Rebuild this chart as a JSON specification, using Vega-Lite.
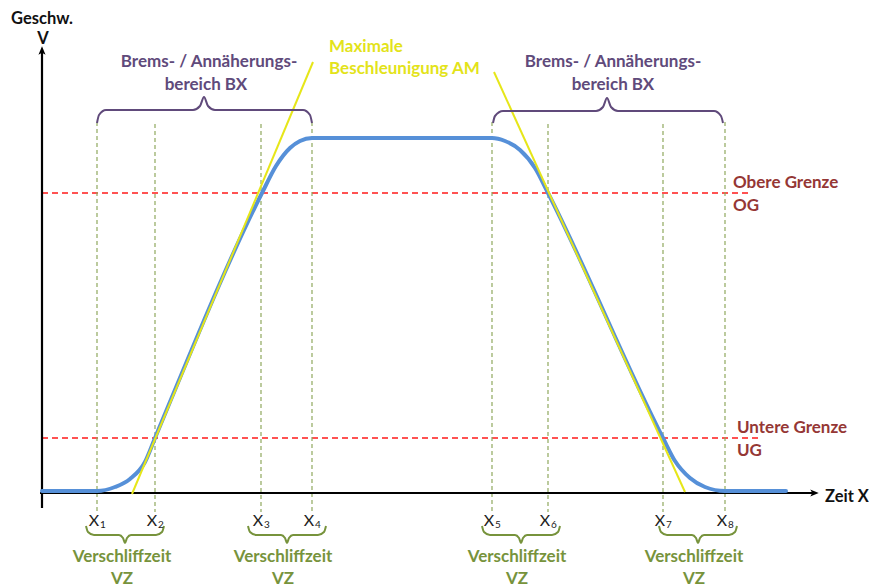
{
  "$schema": "https://vega.github.io/schema/vega-lite/v6.json",
  "width": 869,
  "height": 588,
  "autosize": {"type": "fit", "contains": "padding"},
  "padding": 0,
  "background": "white",
  "config": {"view": {"stroke": null}},
  "datasets": {
    "curve": [
      {"x": 42, "y": 491}, {"x": 97, "y": 491}, {"x": 115, "y": 487}, {"x": 130, "y": 479},
      {"x": 145, "y": 462}, {"x": 155, "y": 438}, {"x": 262, "y": 193}, {"x": 276, "y": 166},
      {"x": 290, "y": 148}, {"x": 300, "y": 141}, {"x": 312, "y": 138}, {"x": 492, "y": 138},
      {"x": 505, "y": 141}, {"x": 520, "y": 150}, {"x": 535, "y": 168}, {"x": 548, "y": 193},
      {"x": 663, "y": 438}, {"x": 675, "y": 461}, {"x": 690, "y": 478}, {"x": 705, "y": 487},
      {"x": 725, "y": 491}, {"x": 786, "y": 491}
    ],
    "tangents": [
      {"x": 132, "y": 494, "x2": 313, "y2": 62},
      {"x": 494, "y": 72, "x2": 685, "y2": 492}
    ],
    "limits": [
      {"x": 42, "x2": 752, "y": 193},
      {"x": 42, "x2": 762, "y": 438}
    ],
    "verticals": [
      {"x": 97, "y": 122, "y2": 512}, {"x": 155, "y": 124, "y2": 512},
      {"x": 261, "y": 124, "y2": 512}, {"x": 312, "y": 122, "y2": 512},
      {"x": 492, "y": 122, "y2": 512}, {"x": 548, "y": 124, "y2": 512},
      {"x": 663, "y": 124, "y2": 512}, {"x": 725, "y": 122, "y2": 512}
    ],
    "axes": [
      {"x": 42, "y": 508, "x2": 42, "y2": 52},
      {"x": 40, "y": 493, "x2": 813, "y2": 493}
    ],
    "topbraces": [
      {"id": "a", "x": 97, "y": 123}, {"x": 99, "y": 115, "id": "a"}, {"x": 106, "y": 110, "id": "a"},
      {"x": 193, "y": 110, "id": "a"}, {"x": 200, "y": 106, "id": "a"}, {"x": 204, "y": 97, "id": "a"},
      {"x": 208, "y": 106, "id": "a"}, {"x": 215, "y": 110, "id": "a"}, {"x": 303, "y": 110, "id": "a"},
      {"x": 310, "y": 115, "id": "a"}, {"x": 312, "y": 123, "id": "a"},
      {"id": "b", "x": 493, "y": 123}, {"x": 495, "y": 116, "id": "b"}, {"x": 503, "y": 111, "id": "b"},
      {"x": 596, "y": 111, "id": "b"}, {"x": 603, "y": 107, "id": "b"}, {"x": 607, "y": 98, "id": "b"},
      {"x": 611, "y": 107, "id": "b"}, {"x": 618, "y": 111, "id": "b"}, {"x": 714, "y": 111, "id": "b"},
      {"x": 721, "y": 116, "id": "b"}, {"x": 723, "y": 123, "id": "b"}
    ],
    "bottombraces": [
      {"id": "1", "x": 86, "y": 526}, {"id": "1", "x": 88, "y": 532}, {"id": "1", "x": 94, "y": 535},
      {"id": "1", "x": 119, "y": 535}, {"id": "1", "x": 123, "y": 538}, {"id": "1", "x": 125, "y": 543},
      {"id": "1", "x": 127, "y": 538}, {"id": "1", "x": 131, "y": 535}, {"id": "1", "x": 156, "y": 535},
      {"id": "1", "x": 162, "y": 532}, {"id": "1", "x": 164, "y": 526},
      {"id": "2", "x": 248, "y": 526}, {"id": "2", "x": 250, "y": 532}, {"id": "2", "x": 256, "y": 535},
      {"id": "2", "x": 281, "y": 535}, {"id": "2", "x": 285, "y": 538}, {"id": "2", "x": 287, "y": 543},
      {"id": "2", "x": 289, "y": 538}, {"id": "2", "x": 293, "y": 535}, {"id": "2", "x": 318, "y": 535},
      {"id": "2", "x": 324, "y": 532}, {"id": "2", "x": 326, "y": 526},
      {"id": "3", "x": 482, "y": 526}, {"id": "3", "x": 484, "y": 532}, {"id": "3", "x": 490, "y": 535},
      {"id": "3", "x": 515, "y": 535}, {"id": "3", "x": 519, "y": 538}, {"id": "3", "x": 521, "y": 543},
      {"id": "3", "x": 523, "y": 538}, {"id": "3", "x": 527, "y": 535}, {"id": "3", "x": 552, "y": 535},
      {"id": "3", "x": 558, "y": 532}, {"id": "3", "x": 560, "y": 526},
      {"id": "4", "x": 659, "y": 526}, {"id": "4", "x": 661, "y": 532}, {"id": "4", "x": 667, "y": 535},
      {"id": "4", "x": 692, "y": 535}, {"id": "4", "x": 696, "y": 538}, {"id": "4", "x": 698, "y": 543},
      {"id": "4", "x": 700, "y": 538}, {"id": "4", "x": 704, "y": 535}, {"id": "4", "x": 729, "y": 535},
      {"id": "4", "x": 735, "y": 532}, {"id": "4", "x": 737, "y": 526}
    ],
    "xlabels": [
      {"n": "1", "x": 97, "y": 521}, {"n": "2", "x": 155, "y": 521},
      {"n": "3", "x": 261, "y": 521}, {"n": "4", "x": 312, "y": 521},
      {"n": "5", "x": 492, "y": 521}, {"n": "6", "x": 548, "y": 521},
      {"n": "7", "x": 663, "y": 521}, {"n": "8", "x": 725, "y": 521}
    ],
    "texts": [
      {"kind": "axis", "text": "Geschw.", "x": 42, "y": 19},
      {"kind": "axis", "text": "V", "x": 43, "y": 39},
      {"kind": "axisL", "text": "Zeit X", "x": 825, "y": 497},
      {"kind": "purple", "text": "Brems- / Annäherungs-", "x": 209, "y": 62},
      {"kind": "purple", "text": "bereich BX", "x": 206, "y": 85},
      {"kind": "purple", "text": "Brems- / Annäherungs-", "x": 613, "y": 62},
      {"kind": "purple", "text": "bereich BX", "x": 613, "y": 85},
      {"kind": "yellow", "text": "Maximale", "x": 329, "y": 47},
      {"kind": "yellow", "text": "Beschleunigung AM", "x": 329, "y": 69},
      {"kind": "red", "text": "Obere Grenze", "x": 733, "y": 183},
      {"kind": "red", "text": "OG", "x": 733, "y": 206},
      {"kind": "red", "text": "Untere Grenze", "x": 737, "y": 428},
      {"kind": "red", "text": "UG", "x": 737, "y": 451},
      {"kind": "green", "text": "Verschliffzeit", "x": 122, "y": 557},
      {"kind": "green", "text": "VZ", "x": 122, "y": 579},
      {"kind": "green", "text": "Verschliffzeit", "x": 283, "y": 557},
      {"kind": "green", "text": "VZ", "x": 283, "y": 579},
      {"kind": "green", "text": "Verschliffzeit", "x": 517, "y": 557},
      {"kind": "green", "text": "VZ", "x": 517, "y": 579},
      {"kind": "green", "text": "Verschliffzeit", "x": 694, "y": 557},
      {"kind": "green", "text": "VZ", "x": 694, "y": 579}
    ],
    "arrows": [
      {"dir": "up", "x": 42, "y": 51},
      {"dir": "right", "x": 814, "y": 493}
    ]
  },
  "encoding": {
    "x": {"field": "x", "type": "quantitative", "scale": {"domain": [0, 869], "nice": false, "zero": false}, "axis": null},
    "y": {"field": "y", "type": "quantitative", "scale": {"domain": [588, 0], "nice": false, "zero": false}, "axis": null}
  },
  "layer": [
    {
      "data": {"name": "limits"},
      "mark": {"type": "rule", "color": "#FF1A1A", "strokeWidth": 1.5, "strokeDash": [6, 4]},
      "encoding": {"x2": {"field": "x2"}}
    },
    {
      "data": {"name": "verticals"},
      "mark": {"type": "rule", "color": "#8FA85E", "strokeWidth": 1.2, "strokeDash": [4, 3]},
      "encoding": {"y2": {"field": "y2"}}
    },
    {
      "data": {"name": "axes"},
      "mark": {"type": "rule", "color": "#000000", "strokeWidth": 2.2},
      "encoding": {"x2": {"field": "x2"}, "y2": {"field": "y2"}}
    },
    {
      "data": {"name": "arrows"},
      "transform": [{"filter": "datum.dir === 'up'"}],
      "mark": {"type": "point", "filled": true, "color": "#000000", "opacity": 1, "size": 90, "shape": "M0,-1L0.75,0.8L0,0.35L-0.75,0.8Z"}
    },
    {
      "data": {"name": "arrows"},
      "transform": [{"filter": "datum.dir === 'right'"}],
      "mark": {"type": "point", "filled": true, "color": "#000000", "opacity": 1, "size": 90, "shape": "M1,0L-0.8,0.75L-0.35,0L-0.8,-0.75Z"}
    },
    {
      "data": {"name": "curve"},
      "mark": {"type": "line", "color": "#5690D8", "strokeWidth": 4, "interpolate": "monotone", "strokeCap": "round"}
    },
    {
      "data": {"name": "tangents"},
      "mark": {"type": "rule", "color": "#E6E619", "strokeWidth": 2},
      "encoding": {"x2": {"field": "x2"}, "y2": {"field": "y2"}}
    },
    {
      "data": {"name": "topbraces"},
      "mark": {"type": "line", "color": "#604A7B", "strokeWidth": 2, "interpolate": "monotone"},
      "encoding": {"detail": {"field": "id"}}
    },
    {
      "data": {"name": "bottombraces"},
      "mark": {"type": "line", "color": "#77933C", "strokeWidth": 2, "interpolate": "monotone"},
      "encoding": {"detail": {"field": "id"}}
    },
    {
      "data": {"name": "xlabels"},
      "mark": {"type": "text", "text": "X", "font": "Lato", "fontSize": 16, "color": "#222222", "align": "center", "baseline": "middle", "dx": -3}
    },
    {
      "data": {"name": "xlabels"},
      "mark": {"type": "text", "font": "Lato", "fontSize": 10, "color": "#222222", "align": "left", "baseline": "middle", "dx": 3, "dy": 4},
      "encoding": {"text": {"field": "n"}}
    },
    {
      "data": {"name": "texts"},
      "transform": [{"filter": "datum.kind === 'axis'"}],
      "mark": {"type": "text", "font": "Lato", "fontWeight": "bold", "fontSize": 16.5, "color": "#111111", "align": "center", "baseline": "middle"},
      "encoding": {"text": {"field": "text"}}
    },
    {
      "data": {"name": "texts"},
      "transform": [{"filter": "datum.kind === 'axisL'"}],
      "mark": {"type": "text", "font": "Lato", "fontWeight": "bold", "fontSize": 16.5, "color": "#111111", "align": "left", "baseline": "middle"},
      "encoding": {"text": {"field": "text"}}
    },
    {
      "data": {"name": "texts"},
      "transform": [{"filter": "datum.kind === 'purple'"}],
      "mark": {"type": "text", "font": "Lato", "fontWeight": "bold", "fontSize": 17, "color": "#604A7B", "align": "center", "baseline": "middle"},
      "encoding": {"text": {"field": "text"}}
    },
    {
      "data": {"name": "texts"},
      "transform": [{"filter": "datum.kind === 'yellow'"}],
      "mark": {"type": "text", "font": "Lato", "fontWeight": "bold", "fontSize": 17, "color": "#E3E31A", "align": "left", "baseline": "middle"},
      "encoding": {"text": {"field": "text"}}
    },
    {
      "data": {"name": "texts"},
      "transform": [{"filter": "datum.kind === 'red'"}],
      "mark": {"type": "text", "font": "Lato", "fontWeight": "bold", "fontSize": 17, "color": "#953735", "align": "left", "baseline": "middle"},
      "encoding": {"text": {"field": "text"}}
    },
    {
      "data": {"name": "texts"},
      "transform": [{"filter": "datum.kind === 'green'"}],
      "mark": {"type": "text", "font": "Lato", "fontWeight": "bold", "fontSize": 17, "color": "#77933C", "align": "center", "baseline": "middle"},
      "encoding": {"text": {"field": "text"}}
    }
  ]
}
